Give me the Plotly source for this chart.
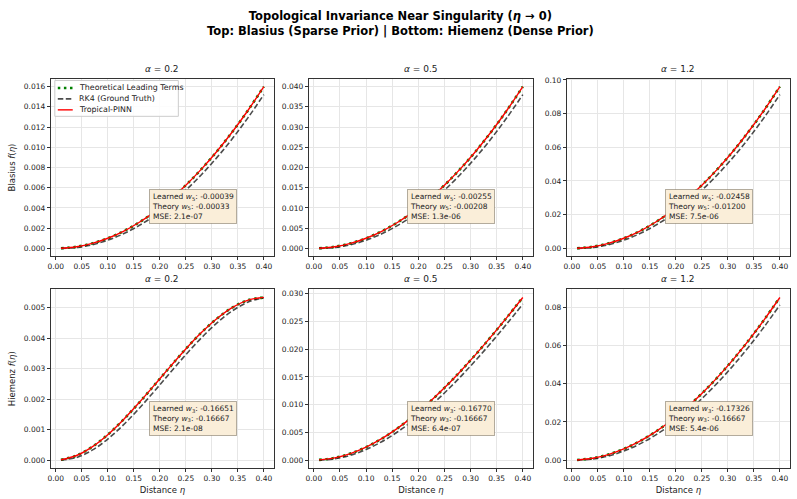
import plotly.graph_objects as go

# ---------------- data ----------------
ETA = [0.01, 0.04, 0.07, 0.10, 0.13, 0.16, 0.19, 0.22, 0.25, 0.28, 0.31, 0.34, 0.37, 0.40]

ALPHAS = ["0.2", "0.5", "1.2"]
SERIES_NAMES = ["Theoretical Leading Terms", "RK4 (Ground Truth)", "Tropical-PINN"]

# Blasius (top row)
blas_theory_02 = [0.00001, 0.00016, 0.00049, 0.00100, 0.00169, 0.00256, 0.00361, 0.00484, 0.00625, 0.00784, 0.00961, 0.01156, 0.01369, 0.01600]
blas_rk4_02 = [0.0, 0.00009, 0.00036, 0.00081, 0.00144, 0.00225, 0.00324, 0.00441, 0.00576, 0.00729, 0.00900, 0.01089, 0.01296, 0.01521]
blas_pinn_02 = [0.00001, 0.00016, 0.00049, 0.00100, 0.00169, 0.00256, 0.00361, 0.00484, 0.00625, 0.00784, 0.00961, 0.01156, 0.01369, 0.01600]

blas_theory_05 = [0.000025, 0.0004, 0.001225, 0.0025, 0.004225, 0.0064, 0.009025, 0.0121, 0.015625, 0.0196, 0.024025, 0.0289, 0.034225, 0.0400]
blas_rk4_05 = [0.0, 0.000225, 0.0009, 0.002025, 0.0036, 0.005625, 0.0081, 0.011025, 0.0144, 0.018225, 0.0225, 0.027225, 0.0324, 0.038025]
blas_pinn_05 = [0.000025, 0.0004, 0.001225, 0.0025, 0.004225, 0.0064, 0.009025, 0.0121, 0.015625, 0.0196, 0.024025, 0.0289, 0.034225, 0.0400]

blas_theory_12 = [0.00006, 0.00096, 0.00294, 0.006, 0.01014, 0.01536, 0.02166, 0.02904, 0.0375, 0.04704, 0.05766, 0.06936, 0.08214, 0.0960]
blas_rk4_12 = [0.0, 0.00054, 0.00216, 0.00486, 0.00864, 0.0135, 0.01944, 0.02646, 0.03456, 0.04374, 0.054, 0.06534, 0.07776, 0.09126]
blas_pinn_12 = [0.00006, 0.00096, 0.00294, 0.006, 0.01014, 0.01536, 0.02166, 0.02904, 0.0375, 0.04704, 0.05766, 0.06936, 0.08214, 0.0960]

# Hiemenz (bottom row)
hiem_theory_02 = [0.0000098, 0.000149, 0.000433, 0.000833, 0.001324, 0.001877, 0.002467, 0.003065, 0.003646, 0.004181, 0.004645, 0.005009, 0.005248, 0.005333]
hiem_rk4_02 = [0.0, 0.0000855, 0.000324, 0.0006885, 0.001152, 0.0016875, 0.002268, 0.0028665, 0.003456, 0.0040095, 0.0045, 0.0049005, 0.005184, 0.0053235]
hiem_pinn_02 = [0.0000098, 0.000149, 0.000433, 0.000833, 0.001324, 0.001877, 0.002467, 0.003065, 0.003646, 0.004181, 0.004645, 0.005009, 0.005248, 0.005336]

hiem_theory_05 = [0.0000248, 0.000389, 0.001168, 0.002333, 0.003859, 0.005717, 0.007882, 0.010325, 0.013021, 0.015941, 0.01906, 0.022349, 0.025783, 0.029333]
hiem_rk4_05 = [0.0, 0.0002205, 0.000864, 0.0019035, 0.003312, 0.0050625, 0.007128, 0.0094815, 0.012096, 0.0149445, 0.018, 0.0212355, 0.024624, 0.0281385]
hiem_pinn_05 = [0.0000248, 0.000389, 0.001168, 0.002333, 0.003859, 0.005717, 0.007882, 0.010325, 0.013021, 0.015941, 0.01906, 0.022349, 0.025783, 0.029325]

hiem_theory_12 = [0.0000598, 0.000949, 0.002883, 0.005833, 0.009774, 0.014677, 0.020517, 0.027265, 0.034896, 0.043381, 0.052695, 0.062809, 0.073698, 0.085333]
hiem_rk4_12 = [0.0, 0.0005355, 0.002124, 0.0047385, 0.008352, 0.0129375, 0.018468, 0.0249165, 0.032256, 0.0404595, 0.0495, 0.0593505, 0.069984, 0.0813735]
hiem_pinn_12 = [0.0000598, 0.000949, 0.002883, 0.005833, 0.009774, 0.014677, 0.020517, 0.027265, 0.034896, 0.043381, 0.052695, 0.062809, 0.073698, 0.085280]

# annotation values
BLAS_LEARNED = ["-0.00039", "-0.00255", "-0.02458"]
BLAS_THEORY = ["-0.00033", "-0.00208", "-0.01200"]
BLAS_MSE = ["2.1e-07", "1.3e-06", "7.5e-06"]
HIEM_LEARNED = ["-0.16651", "-0.16770", "-0.17326"]
HIEM_THEORY = ["-0.16667", "-0.16667", "-0.16667"]
HIEM_MSE = ["2.1e-08", "6.4e-07", "5.4e-06"]

# tick settings per panel
Y_TICKS = [
    ([0.000, 0.002, 0.004, 0.006, 0.008, 0.010, 0.012, 0.014, 0.016], ".3f"),
    ([0.000, 0.005, 0.010, 0.015, 0.020, 0.025, 0.030, 0.035, 0.040], ".3f"),
    ([0.00, 0.02, 0.04, 0.06, 0.08, 0.10], ".2f"),
    ([0.000, 0.001, 0.002, 0.003, 0.004, 0.005], ".3f"),
    ([0.000, 0.005, 0.010, 0.015, 0.020, 0.025, 0.030], ".3f"),
    ([0.00, 0.02, 0.04, 0.06, 0.08], ".2f"),
]
X_TICKS = [0.00, 0.05, 0.10, 0.15, 0.20, 0.25, 0.30, 0.35, 0.40]

panels = [
    (blas_theory_02, blas_rk4_02, blas_pinn_02),
    (blas_theory_05, blas_rk4_05, blas_pinn_05),
    (blas_theory_12, blas_rk4_12, blas_pinn_12),
    (hiem_theory_02, hiem_rk4_02, hiem_pinn_02),
    (hiem_theory_05, hiem_rk4_05, hiem_pinn_05),
    (hiem_theory_12, hiem_rk4_12, hiem_pinn_12),
]

# ---------------- styles & geometry ----------------
W, H = 797, 499
X_DOM = [(48 / W, 272 / W), (307 / W, 532 / W), (566 / W, 790 / W)]
Y_DOM = [(1 - 255 / H, 1 - 76 / H), (1 - 468 / H, 1 - 288 / H)]

FONT = "DejaVu Sans"
TXT = "#222222"
STYLES = [
    dict(color="#008000", width=2.6, dash="2.5px,3.6px"),
    dict(color="rgba(0,0,0,0.7)", width=1.6, dash="5.5px,2.5px"),
    dict(color="#ff0000", width=1.4, dash="solid"),
]

fig = go.Figure()
layout = dict(
    width=W, height=H,
    margin=dict(l=0, r=0, t=0, b=0),
    paper_bgcolor="white", plot_bgcolor="white",
    font=dict(family=FONT, size=8, color=TXT),
    showlegend=False,
)

annotations = []
shapes = []

for i, series in enumerate(panels):
    row, col = divmod(i, 3)
    ax = "" if i == 0 else str(i + 1)
    xa, ya = "x" + ax, "y" + ax
    for name, vals, st in zip(SERIES_NAMES, series, STYLES):
        fig.add_trace(go.Scatter(x=ETA, y=vals, mode="lines", xaxis=xa, yaxis=ya, name=name,
                                 line=dict(color=st["color"], width=st["width"], dash=st["dash"],
                                           shape="spline")))

    allv = [v for s in series for v in s]
    ymax, ymin = max(allv), min(allv)
    pad = (ymax - ymin) * 0.05
    yt, yf = Y_TICKS[i]
    common = dict(showline=True, linecolor="#333333", linewidth=1, mirror=True,
                  ticks="outside", ticklen=3, tickcolor="#333333", tickwidth=0.8,
                  showgrid=True, gridcolor="#e6e6e6", gridwidth=0.8, zeroline=False,
                  tickfont=dict(size=7.5, color=TXT, family=FONT))
    layout["xaxis" + ax] = dict(domain=X_DOM[col], anchor=ya, range=[0.01 - 0.0195, 0.40 + 0.0195],
                                tickvals=X_TICKS, tickformat=".2f",
                                title=dict(text="Distance <i>η</i>", font=dict(size=8.5), standoff=4) if row == 1 else None,
                                **common)
    ytitle = None
    if col == 0:
        ytitle = dict(text=("Blasius" if row == 0 else "Hiemenz") + " <i>f</i>(<i>η</i>)",
                      font=dict(size=8.5), standoff=6)
    layout["yaxis" + ax] = dict(domain=Y_DOM[row], anchor=xa, range=[ymin - pad, ymax + pad],
                                tickvals=yt, tickformat=yf, title=ytitle, **common)

    annotations.append(dict(text="<i>α</i> = " + ALPHAS[col], xref="x" + ax + " domain", yref="y" + ax + " domain",
                            x=0.5, y=1.0, yshift=3, xanchor="center", yanchor="bottom", showarrow=False,
                            font=dict(size=9, color=TXT)))
    if row == 0:
        w = "<i>w</i><sub>5</sub>"
        txt = f"Learned {w}: {BLAS_LEARNED[col]}<br>Theory {w}: {BLAS_THEORY[col]}<br>MSE: {BLAS_MSE[col]}"
    else:
        w = "<i>w</i><sub>3</sub>"
        txt = f"Learned {w}: {HIEM_LEARNED[col]}<br>Theory {w}: {HIEM_THEORY[col]}<br>MSE: {HIEM_MSE[col]}"
    annotations.append(dict(text=txt, xref="x" + ax + " domain", yref="y" + ax + " domain",
                            x=0.44, y=0.28, xanchor="left", yanchor="middle", align="left",
                            showarrow=False, font=dict(size=7.5, color=TXT),
                            bgcolor="#faeed9", bordercolor="rgba(90,80,60,0.45)", borderwidth=1, borderpad=2))

# ---- compact legend (matplotlib-like) in the first panel ----
def px(x):
    return x / W

def py(y):
    return 1 - y / H

shapes.append(dict(type="rect", xref="paper", yref="paper", x0=px(52), x1=px(176), y0=py(78), y1=py(114),
                   line=dict(color="#cccccc", width=1), fillcolor="rgba(255,255,255,0.85)", layer="above"))
for k, (name, st) in enumerate(zip(SERIES_NAMES, STYLES)):
    yy = 85.5 + k * 11
    shapes.append(dict(type="line", xref="paper", yref="paper", x0=px(55), x1=px(70), y0=py(yy), y1=py(yy),
                       line=dict(color=st["color"], width=st["width"], dash=st["dash"]), layer="above"))
    annotations.append(dict(text=name, xref="paper", yref="paper", x=px(74), y=py(yy),
                            xanchor="left", yanchor="middle", showarrow=False,
                            font=dict(size=7.9, color=TXT)))

# suptitle
annotations.append(dict(text="<b>Topological Invariance Near Singularity (<i>η</i> → 0)<br>"
                             "Top: Blasius (Sparse Prior) | Bottom: Hiemenz (Dense Prior)</b>",
                        xref="paper", yref="paper", x=0.5, y=1 - 4 / H, xanchor="center", yanchor="top",
                        showarrow=False, font=dict(size=11.5, color="black")))

layout["annotations"] = annotations
layout["shapes"] = shapes
fig.update_layout(**layout)

fig.write_html("out.html")
